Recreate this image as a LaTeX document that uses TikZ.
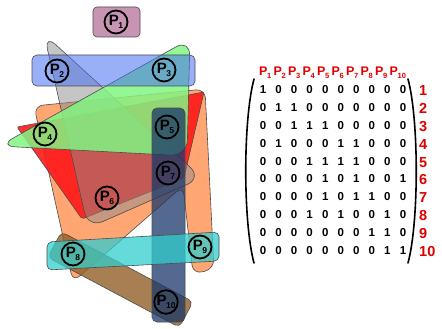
\documentclass[tikz,border=0pt]{standalone}
\usepackage{fontspec}
\setmainfont{Liberation Sans}
\definecolor{cpink}{RGB}{200,148,180}
\definecolor{cblue}{RGB}{70,110,240}
\definecolor{cgreen}{RGB}{130,245,130}
\definecolor{cgray}{RGB}{140,140,140}
\definecolor{cred}{RGB}{255,25,25}
\definecolor{corange}{RGB}{255,150,90}
\definecolor{cnavy}{RGB}{25,55,105}
\definecolor{ccyan}{RGB}{50,205,205}
\definecolor{cbrown}{RGB}{145,95,40}
\definecolor{cmred}{RGB}{225,0,0}
\newcommand{\pl}[1]{P\kern-0.5pt\raisebox{-0.45ex}{\fontsize{8.5}{8.5}\selectfont #1}}
\newcommand{\hl}[1]{P\kern-0.3pt\raisebox{-0.4ex}{\fontsize{7.5}{7.5}\selectfont #1}}
\begin{document}
\begin{tikzpicture}[x=1pt,y=-1pt,
  hedge/.style={draw=black!70, line width=0.6pt, rounded corners=7pt},
  pnode/.style={circle, draw=black, line width=1.8pt, minimum size=23pt, inner sep=0pt,
    font=\bfseries\fontsize{15}{15}\selectfont},
  digit/.style={inner sep=0pt, font=\bfseries\fontsize{11.5}{11.5}\selectfont},
  head/.style={inner sep=0pt, anchor=west, text=cmred, font=\bfseries\fontsize{12.5}{12.5}\selectfont},
  rowno/.style={inner sep=0pt, anchor=west, text=cmred, font=\bfseries\fontsize{14.5}{14.5}\selectfont},
  paren/.style={line width=1.6pt, line cap=round}]
\useasboundingbox (0,0) rectangle (442,329);
% hyperedges
\draw[hedge, rounded corners=4pt, fill=cpink] (93,7) rectangle (140,37);
\draw[hedge, rounded corners=9pt, fill=corange, fill opacity=0.85]
  (34,106) -- (205,89) -- (214,269) -- (193,274) -- (183,186) -- (73,282) -- cycle;
\draw[hedge, rounded corners=2pt, fill=cred, fill opacity=0.9]
  (17,127) -- (204,92) -- (184,178) -- (82,219) -- cycle;
\draw[hedge, rounded corners=16pt, fill=cgray, fill opacity=0.5]
  (44,34) -- (202,178) -- (88,228) -- cycle;
\draw[hedge, rounded corners=16pt, fill=cgreen, fill opacity=0.85]
  (-1,146) -- (190,39) -- (187,156) -- cycle;
\draw[hedge, rounded corners=5pt, fill=cblue, fill opacity=0.55] (32,55) rectangle (195,86);
\draw[hedge, rounded corners=5pt, fill=cbrown, fill opacity=0.8]
  (61.4,231.8) -- (193,301.7) -- (179.4,327.3) -- (47.8,257.4) -- cycle;
\draw[hedge, rounded corners=5pt, fill=cnavy, fill opacity=0.75] (152,108) rectangle (185,322);
\draw[hedge, rounded corners=5pt, fill=ccyan, fill opacity=0.75]
  (47,242) -- (219,232) -- (219,261) -- (47,270) -- cycle;
% vertices
\node[pnode] (p1) at (116,22) {\pl{1}};
\node[pnode] (p2) at (57,71) {\pl{2}};
\node[pnode] (p3) at (164,70) {\pl{3}};
\node[pnode] (p4) at (45,134) {\pl{4}};
\node[pnode] (p5) at (167,127) {\pl{5}};
\node[pnode] (p6) at (107,198) {\pl{6}};
\node[pnode] (p7) at (168,173) {\pl{7}};
\node[pnode] (p8) at (73,254) {\pl{8}};
\node[pnode] (p9) at (200,247) {\pl{9}};
\node[pnode] (p10) at (166,302) {\pl{10}};
% incidence matrix
\foreach \i in {1,...,10} {
  \node[head] (h\i) at ({259+14.5*(\i-1)},73) {\hl{\i}};
}
\foreach \r/\bits in {1/{1,0,0,0,0,0,0,0,0,0},2/{0,1,1,0,0,0,0,0,0,0},3/{0,0,1,1,1,0,0,0,0,0},
  4/{0,1,0,0,0,1,1,0,0,0},5/{0,0,0,1,1,1,1,0,0,0},6/{0,0,0,0,1,0,1,0,0,1},
  7/{0,0,0,0,1,0,1,1,0,0},8/{0,0,0,1,0,1,0,0,1,0},9/{0,0,0,0,0,0,0,1,1,0},
  10/{0,0,0,0,0,0,0,0,1,1}} {
  \foreach \b [count=\c] in \bits {
    \node[digit] (m\r-\c) at ({263+15.55*(\c-1)},{90+17.8*(\r-1)}) {\b};
  }
  \node[rowno] (r\r) at (419,{91+17.8*(\r-1)}) {\r};
}
\draw[paren] (254,79) .. controls (243,120) and (243,222) .. (254,263);
\draw[paren] (408,79) .. controls (419,120) and (419,222) .. (408,263);
\end{tikzpicture}
\end{document}
